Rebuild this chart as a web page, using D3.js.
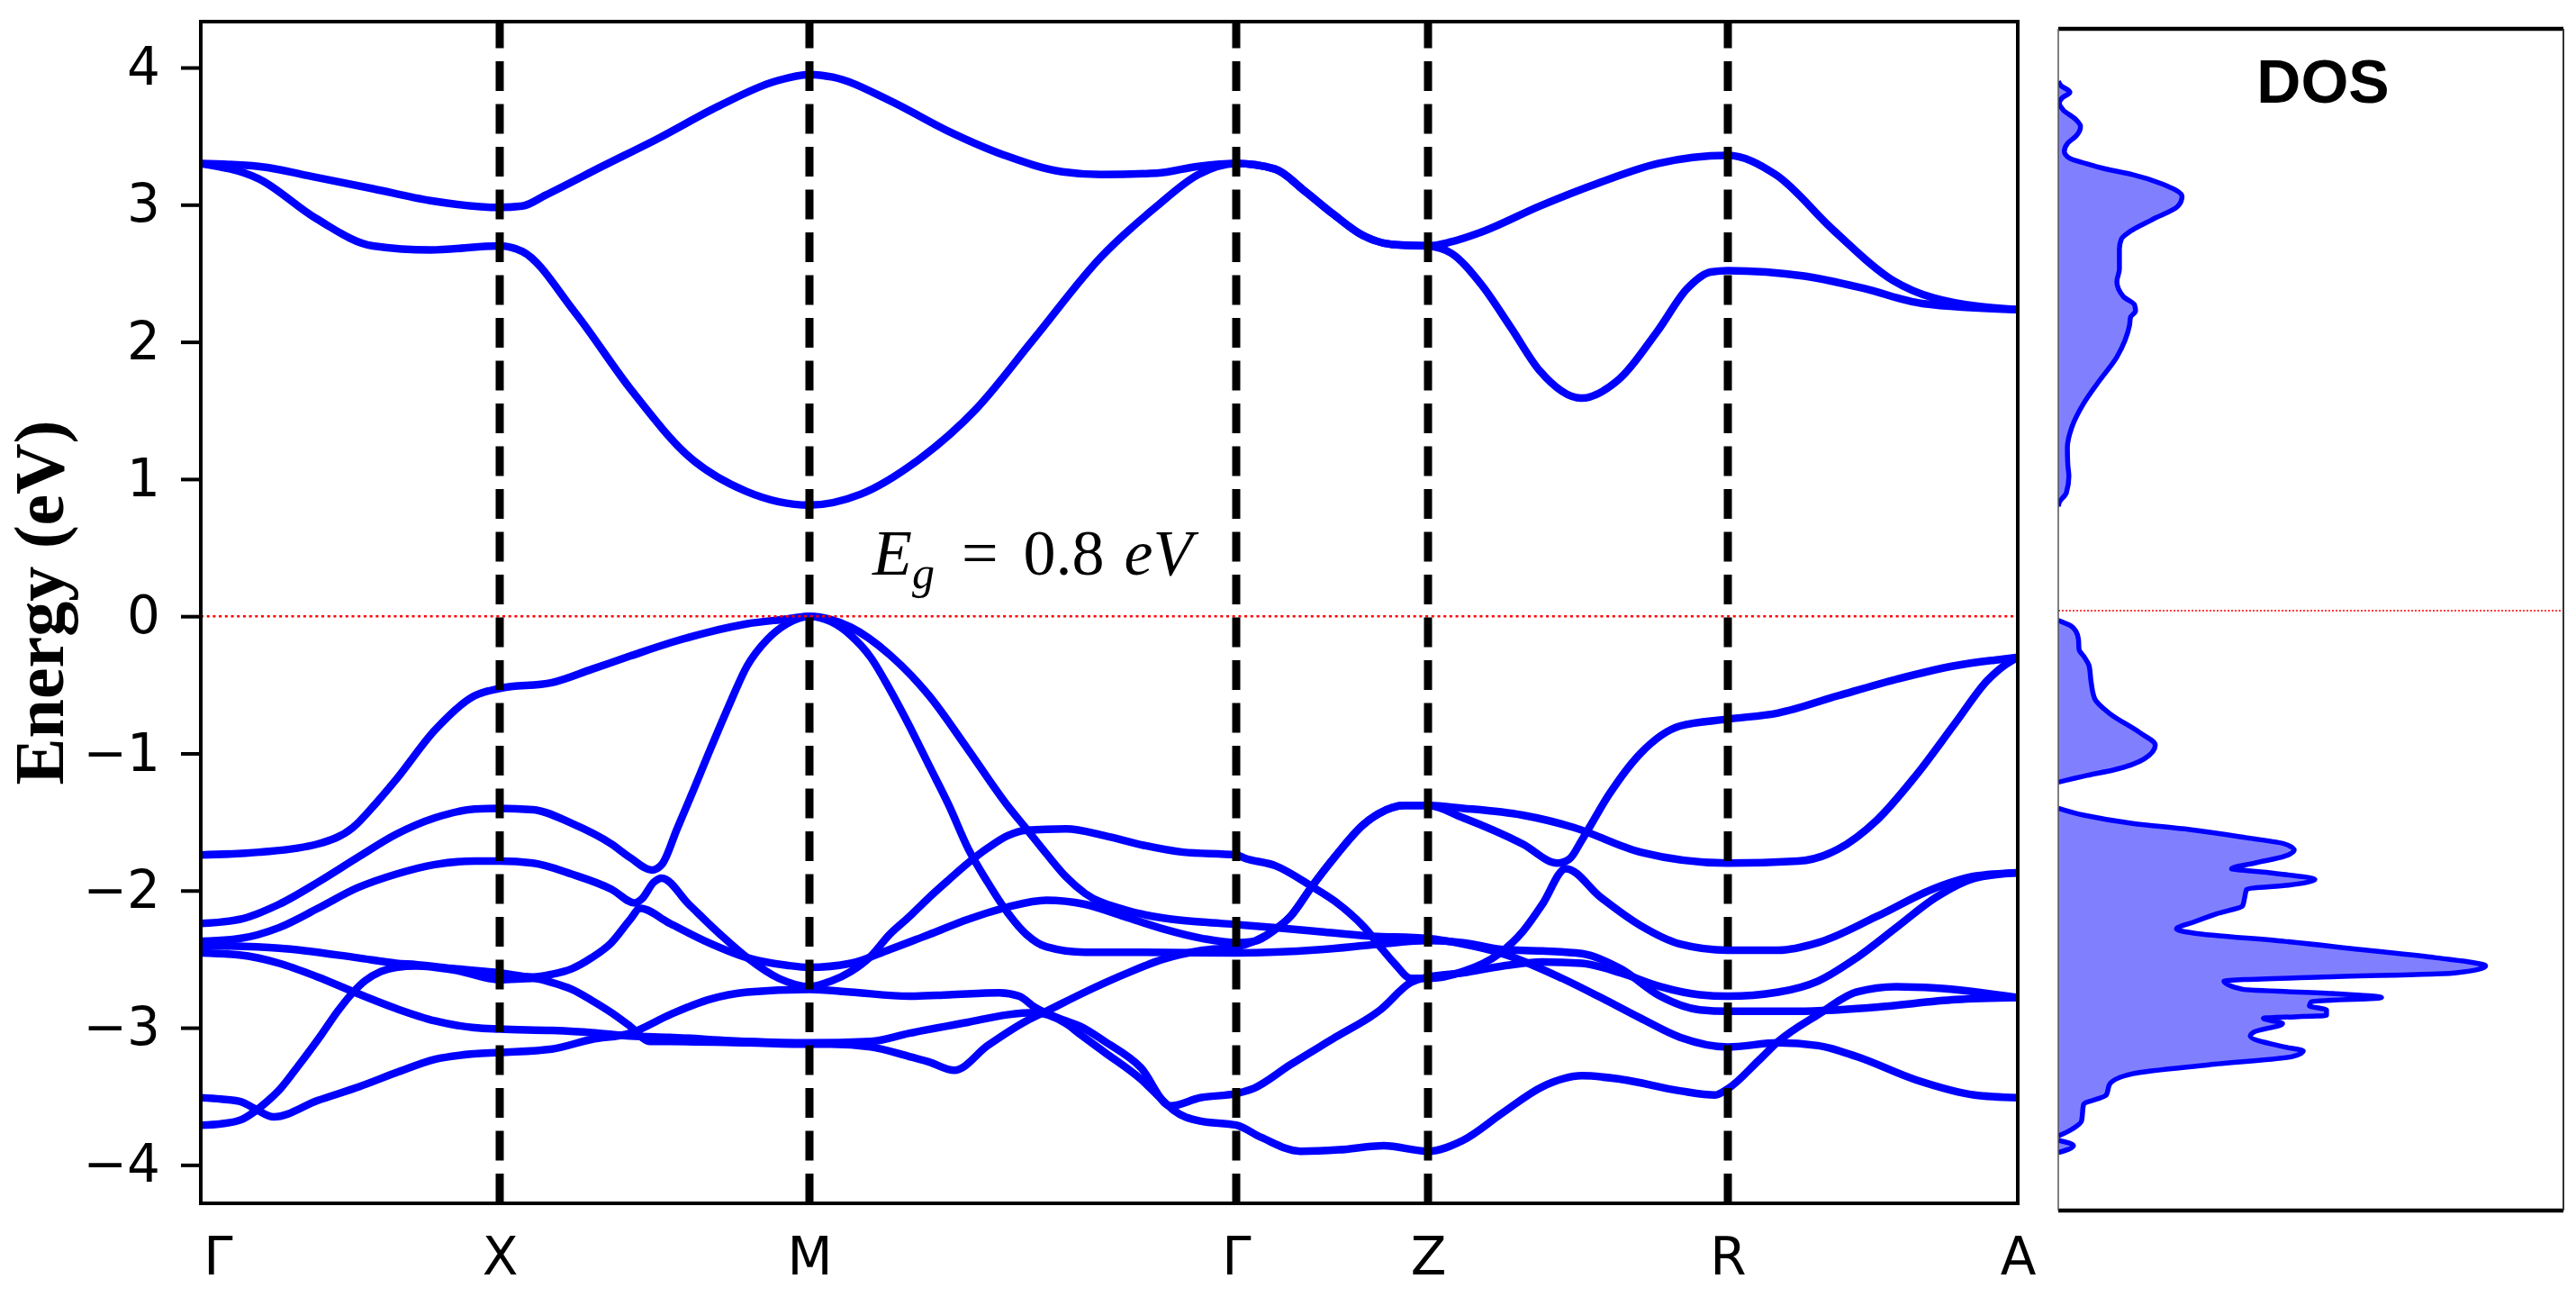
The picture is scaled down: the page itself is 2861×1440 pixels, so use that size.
<!DOCTYPE html>
<html>
<head>
<meta charset="utf-8">
<script src="https://cdn.jsdelivr.net/npm/d3@7"></script>
<style>
  body { margin: 0; background: #fff; }
  svg { display: block; }
</style>
</head>
<body>
<div id="chart"></div>
<script>
// high-symmetry points along the k-path (path distance, arbitrary units)
const kTicks  = [0.19, 3.32, 6.76, 11.50, 13.63, 16.96, 20.18];
const kLabels = ["Γ", "X", "M", "Γ", "Z", "R", "A"];
const kEdges  = [0, 20.18];
const yTicks  = [-4, -3, -2, -1, 0, 1, 2, 3, 4];
const gapText = "0.8";
const dosFermi = 0.04;

// valence bands [k, E(eV)]
const band1 = [[0,-1.74],[0.65,-1.72],[1.30,-1.66],[1.69,-1.54],[1.95,-1.36],[2.17,-1.19],[2.60,-0.83],[3.04,-0.58],[3.32,-0.526],
  [3.90,-0.484],[4.34,-0.387],[4.77,-0.29],[5.21,-0.194],[5.64,-0.116],[6.07,-0.055],[6.51,-0.02],[6.76,0],
  [7.22,-0.08],[7.65,-0.28],[8.09,-0.58],[8.52,-0.97],[8.96,-1.38],[9.17,-1.55],[9.39,-1.73],[9.61,-1.90],[9.82,-2.02],[10.26,-2.14],[10.69,-2.20],[11.13,-2.23],[11.50,-2.247],
  [11.94,-2.27],[12.44,-2.30],[12.94,-2.33],[13.63,-2.35],
  [14.02,-2.39],[14.46,-2.46],[15.12,-2.64],[15.55,-2.78],[15.99,-2.93],[16.43,-3.07],[16.96,-3.14],
  [17.52,-3.11],[17.96,-3.13],[18.39,-3.21],[19.05,-3.38],[19.70,-3.49],[20.18,-3.51]];
const band2 = [[0,-2.24],[0.43,-2.21],[0.87,-2.10],[1.30,-1.94],[1.74,-1.76],[2.17,-1.59],[2.60,-1.47],[3.04,-1.406],[3.32,-1.40],
  [3.69,-1.41],[4.12,-1.51],[4.56,-1.66],[4.77,-1.76],[5.01,-1.85],[5.12,-1.81],[5.29,-1.55],[5.47,-1.27],[5.64,-1.00],[5.86,-0.66],[6.07,-0.36],[6.29,-0.17],[6.51,-0.055],[6.76,0],
  [7.00,-0.04],[7.22,-0.14],[7.44,-0.30],[7.65,-0.53],[7.87,-0.80],[8.09,-1.09],[8.31,-1.38],[8.52,-1.69],[8.74,-1.94],[8.96,-2.16],[9.17,-2.32],[9.39,-2.41],[9.82,-2.45],[10.47,-2.45],[11.50,-2.455],
  [12.44,-2.43],[13.10,-2.39],[13.63,-2.365],
  [14.02,-2.38],[14.46,-2.43],[14.90,-2.44],[15.34,-2.46],[15.77,-2.57],[16.21,-2.77],[16.65,-2.87],[16.96,-2.88],
  [17.74,-2.88],[18.61,-2.85],[19.49,-2.795],[20.18,-2.78]];
const band3 = [[0,-2.37],[0.43,-2.35],[0.87,-2.27],[1.30,-2.13],[1.74,-1.98],[2.17,-1.88],[2.60,-1.81],[3.04,-1.785],[3.32,-1.785],
  [3.69,-1.80],[4.12,-1.88],[4.56,-1.99],[4.82,-2.09],[4.90,-2.06],[5.03,-1.94],[5.12,-1.91],[5.42,-2.10],[5.77,-2.32],[6.07,-2.49],[6.42,-2.64],[6.76,-2.70],
  [7.00,-2.66],[7.22,-2.59],[7.44,-2.48],[7.65,-2.32],[7.87,-2.19],[8.09,-2.05],[8.31,-1.92],[8.52,-1.80],[8.74,-1.69],[8.96,-1.60],[9.17,-1.56],[9.61,-1.55],[10.04,-1.60],[10.47,-1.67],[10.91,-1.72],[11.50,-1.74],
  [11.60,-1.765],[11.94,-1.82],[12.34,-1.97],[12.60,-2.08],[12.94,-2.28],[13.10,-2.41],[13.27,-2.54],[13.44,-2.64],[13.63,-2.64],
  [14.02,-2.59],[14.42,-2.46],[14.68,-2.30],[14.90,-2.10],[15.16,-1.84],[15.55,-2.05],[15.99,-2.255],[16.43,-2.39],[16.96,-2.435],
  [17.52,-2.435],[17.96,-2.38],[18.61,-2.19],[19.27,-1.98],[19.70,-1.895],[20.18,-1.87]];
const band4 = [[0,-2.40],[0.87,-2.42],[1.74,-2.49],[2.17,-2.53],[2.39,-2.54],[2.82,-2.57],[3.32,-2.60],
  [3.69,-2.63],[3.90,-2.61],[4.12,-2.57],[4.34,-2.49],[4.56,-2.38],[4.77,-2.21],[4.88,-2.13],[5.21,-2.24],[5.64,-2.38],[6.07,-2.49],[6.51,-2.545],[6.76,-2.56],
  [7.22,-2.53],[7.65,-2.43],[8.09,-2.32],[8.52,-2.21],[8.96,-2.12],[9.39,-2.07],[9.82,-2.10],[10.26,-2.19],[10.69,-2.28],[11.13,-2.35],[11.50,-2.38],
  [11.70,-2.37],[11.94,-2.28],[12.10,-2.19],[12.34,-1.97],[12.60,-1.75],[12.91,-1.52],[13.08,-1.44],[13.37,-1.38],[13.63,-1.38],
  [14.02,-1.40],[14.68,-1.45],[15.25,-1.54],[15.99,-1.72],[16.96,-1.80],
  [17.74,-1.785],[18.18,-1.70],[18.61,-1.49],[19.05,-1.16],[19.49,-0.775],[19.84,-0.47],[20.05,-0.35],[20.18,-0.30]];
const band5 = [[0,-3.71],[0.225,-3.70],[0.45,-3.67],[0.60,-3.61],[0.75,-3.53],[0.89,-3.44],[1.08,-3.28],[1.34,-3.05],[1.52,-2.88],[1.68,-2.75],[1.82,-2.66],[2.00,-2.59],[2.17,-2.56],[2.39,-2.55],[2.82,-2.58],[3.32,-2.65],
  [3.69,-2.64],[3.90,-2.67],[4.12,-2.72],[4.34,-2.80],[4.56,-2.89],[4.77,-2.99],[4.99,-3.10],[5.21,-3.10],[6.07,-3.11],[6.76,-3.12],
  [7.00,-3.12],[7.44,-3.14],[7.87,-3.21],[8.09,-3.25],[8.37,-3.31],[8.74,-3.13],[9.17,-2.95],[9.39,-2.88],[9.82,-2.74],[10.26,-2.61],[10.69,-2.50],[11.13,-2.435],[11.50,-2.41],
  [11.70,-2.37],[11.94,-2.28],[12.10,-2.19],[12.34,-1.97],[12.60,-1.75],[12.91,-1.52],[13.08,-1.44],[13.37,-1.38],[13.63,-1.38],
  [14.02,-1.47],[14.68,-1.66],[15.07,-1.80],[15.20,-1.77],[15.34,-1.63],[15.64,-1.30],[15.99,-1.00],[16.43,-0.80],[16.96,-0.75],
  [17.52,-0.705],[18.18,-0.58],[18.83,-0.46],[19.49,-0.36],[19.92,-0.32],[20.18,-0.30]];
const band6 = [[0,-2.455],[0.43,-2.47],[0.87,-2.53],[1.30,-2.63],[1.74,-2.75],[2.17,-2.86],[2.60,-2.95],[3.04,-3.00],[3.32,-3.01],
  [3.90,-3.02],[4.34,-3.035],[4.77,-3.06],[5.21,-3.07],[6.07,-3.10],[6.76,-3.11],
  [7.44,-3.10],[7.87,-3.04],[8.52,-2.96],[8.96,-2.905],[9.26,-2.89],[9.61,-2.97],[9.77,-3.05],[10.04,-3.18],[10.44,-3.375],[10.70,-3.54],[10.80,-3.60],[11.10,-3.68],[11.50,-3.71],
  [11.78,-3.80],[12.21,-3.90],[12.64,-3.89],[13.14,-3.86],[13.63,-3.90],
  [14.02,-3.82],[14.46,-3.62],[14.90,-3.43],[15.34,-3.35],[15.77,-3.375],[16.43,-3.46],[16.82,-3.49],[16.96,-3.445],
  [17.30,-3.24],[17.52,-3.10],[17.96,-2.905],[18.39,-2.74],[18.83,-2.70],[19.27,-2.71],[20.18,-2.78]];
const band7 = [[0,-3.51],[0.225,-3.52],[0.45,-3.54],[0.60,-3.59],[0.81,-3.65],[1.30,-3.53],[1.76,-3.43],[2.20,-3.32],[2.60,-3.23],[3.04,-3.19],[3.32,-3.18],
  [3.90,-3.155],[4.34,-3.085],[4.77,-3.04],[5.21,-2.905],[5.64,-2.795],[6.07,-2.74],[6.76,-2.72],
  [7.22,-2.74],[7.87,-2.77],[8.31,-2.76],[8.87,-2.745],[9.09,-2.77],[9.26,-2.85],[9.61,-2.95],[9.77,-2.99],[10.04,-3.10],[10.44,-3.29],[10.77,-3.57],[11.10,-3.51],[11.50,-3.48],
  [11.70,-3.44],[12.10,-3.27],[12.60,-3.07],[13.10,-2.87],[13.44,-2.67],[13.63,-2.63],
  [14.02,-2.60],[14.46,-2.55],[14.90,-2.52],[15.34,-2.53],[15.77,-2.60],[16.21,-2.70],[16.65,-2.76],[16.96,-2.77],
  [17.52,-2.74],[17.96,-2.66],[18.39,-2.49],[18.83,-2.27],[19.27,-2.05],[19.70,-1.91],[20.18,-1.87]];

// conduction bands
const cond1 = [[0,3.30],[0.64,3.19],[1.28,2.90],[1.91,2.70],[2.55,2.67],[3.32,2.70],
  [3.57,2.66],[4.15,2.22],[4.78,1.65],[5.42,1.165],[6.06,0.91],[6.76,0.81],
  [7.33,0.89],[7.97,1.14],[8.61,1.51],[9.25,2.02],[10.0,2.62],[10.62,2.99],[11.08,3.22],[11.50,3.30],
  [11.93,3.26],[12.26,3.10],[12.58,2.93],[12.91,2.775],[13.24,2.71],[13.63,2.70],
  [13.89,2.646],[14.22,2.42],[14.55,2.105],[14.87,1.79],[15.33,1.59],[15.72,1.71],[16.18,2.08],[16.51,2.39],[16.77,2.51],[16.96,2.52],
  [17.81,2.48],[18.47,2.39],[19.12,2.28],[20.18,2.235]];
const cond2 = [[0,3.30],[0.64,3.28],[1.28,3.20],[1.91,3.117],[2.55,3.03],[3.32,2.98],
  [3.57,2.99],[3.83,3.07],[4.46,3.28],[5.10,3.49],[5.74,3.715],[6.38,3.90],[6.76,3.95],
  [7.02,3.93],[7.65,3.76],[8.29,3.54],[8.93,3.36],[9.57,3.24],[10.0,3.22],[10.62,3.23],[11.08,3.28],[11.50,3.30],
  [11.93,3.26],[12.26,3.10],[12.58,2.93],[12.91,2.775],[13.24,2.71],[13.63,2.70],
  [13.89,2.73],[14.22,2.80],[14.87,2.99],[15.53,3.16],[16.18,3.30],[16.96,3.36],
  [17.49,3.22],[18.14,2.81],[18.79,2.45],[19.25,2.32],[20.18,2.235]];

// density of states islands [E(eV), DOS]
const dosCond = [[3.90,0],[3.87,0.05],[3.82,0.23],[3.78,0.08],[3.74,0.02],[3.69,0.10],[3.62,0.35],[3.57,0.44],[3.50,0.35],[3.45,0.19],[3.39,0.12],[3.34,0.22],[3.30,0.55],[3.26,0.95],[3.22,1.47],[3.15,2.07],[3.06,2.45],[2.99,2.37],[2.89,1.85],[2.80,1.40],[2.75,1.25],[2.68,1.21],[2.53,1.21],[2.44,1.16],[2.33,1.29],[2.27,1.51],[2.225,1.53],[2.18,1.43],[2.12,1.41],[2.01,1.32],[1.89,1.16],[1.71,0.80],[1.55,0.50],[1.38,0.27],[1.23,0.18],[1.10,0.19],[1.02,0.21],[0.90,0.16],[0.83,0.02],[0.80,0]];
const dosValTop = [[-0.03,0],[-0.07,0.25],[-0.11,0.35],[-0.17,0.40],[-0.24,0.41],[-0.30,0.52],[-0.36,0.61],[-0.48,0.65],[-0.60,0.72],[-0.71,1.02],[-0.85,1.62],[-0.94,1.92],[-1.04,1.70],[-1.12,1.10],[-1.16,0.57],[-1.21,0]];
const dosValMain = [[-1.40,0],[-1.45,0.50],[-1.51,1.47],[-1.555,2.60],[-1.615,3.73],[-1.66,4.48],[-1.706,4.67],[-1.75,4.48],[-1.80,3.88],[-1.84,3.43],[-1.87,4.18],[-1.92,5.08],[-1.96,4.56],[-1.99,3.73],[-2.05,3.69],[-2.11,3.65],[-2.17,3.13],[-2.23,2.68],[-2.28,2.34],[-2.31,2.68],[-2.37,4.48],[-2.43,5.98],[-2.49,7.48],[-2.55,8.46],[-2.60,7.85],[-2.63,5.23],[-2.66,3.28],[-2.72,3.65],[-2.75,5.42],[-2.78,6.40],[-2.81,5.01],[-2.84,4.97],[-2.87,5.31],[-2.91,5.31],[-2.93,4.06],[-2.97,4.44],[-3.03,3.88],[-3.06,3.80],[-3.14,4.48],[-3.17,4.85],[-3.21,4.63],[-3.27,2.98],[-3.335,1.47],[-3.41,1.02],[-3.49,0.95],[-3.56,0.50],[-3.68,0.46],[-3.74,0.27],[-3.79,0]];
const dosDeep = [[-3.82,0],[-3.86,0.30],[-3.91,0]];

const valence = [band1, band2, band3, band4, band5, band6, band7];
const conduction = [cond1, cond2];
const dosParts = [dosCond, dosValTop, dosValMain, dosDeep];

const W = 2861, H = 1440;
const plot = { l: 223, r: 2241, t: 24, b: 1336 };
const side = { l: 2286, r: 2847, t: 32, b: 1344 };
const blue = "#0000ff";

const svg = d3.select("#chart").append("svg").attr("width", W).attr("height", H);

const x  = d3.scaleLinear().domain(kEdges).range([plot.l, plot.r]);
const y  = d3.scaleLinear().domain([-4.28, 4.335]).range([plot.b, plot.t]);
const dx = d3.scaleLinear().domain([0, 10]).range([side.l, side.r]);

const defs = svg.append("defs");
defs.append("clipPath").attr("id", "clip-main").append("rect")
  .attr("x", plot.l).attr("y", plot.t).attr("width", plot.r - plot.l).attr("height", plot.b - plot.t);
defs.append("clipPath").attr("id", "clip-dos").append("rect")
  .attr("x", side.l).attr("y", side.t).attr("width", side.r - side.l).attr("height", side.b - side.t);

// bands
const line = d3.line().x(d => x(d[0])).y(d => y(d[1])).curve(d3.curveMonotoneX);
const gBands = svg.append("g").attr("clip-path", "url(#clip-main)");
gBands.selectAll("path.band").data(valence.concat(conduction)).join("path")
  .attr("class", "band").attr("d", line)
  .attr("fill", "none").attr("stroke", blue).attr("stroke-width", 8.5)
  .attr("stroke-linejoin", "round").attr("stroke-linecap", "round");

// fermi level
svg.append("line")
  .attr("x1", plot.l).attr("x2", plot.r).attr("y1", y(0)).attr("y2", y(0))
  .attr("stroke", "#ff0000").attr("stroke-width", 2.5).attr("stroke-dasharray", "3,3.7");

// high-symmetry dashed lines (drawn from the bottom like matplotlib)
svg.append("g").selectAll("line").data(kTicks.slice(1, -1)).join("line")
  .attr("x1", d => x(d)).attr("x2", d => x(d))
  .attr("y1", plot.b).attr("y2", plot.t)
  .attr("stroke", "#000").attr("stroke-width", 9).attr("stroke-dasharray", "33,14.5");

// frame
svg.append("rect").attr("x", plot.l).attr("y", plot.t)
  .attr("width", plot.r - plot.l).attr("height", plot.b - plot.t)
  .attr("fill", "none").attr("stroke", "#000").attr("stroke-width", 4);

// y axis
const yAxis = svg.append("g").attr("transform", `translate(${plot.l},0)`)
  .call(d3.axisLeft(y).tickValues(yTicks).tickSize(22).tickPadding(23).tickFormat(d3.format("d")));
yAxis.select(".domain").remove();
yAxis.selectAll(".tick line").attr("stroke", "#000").attr("stroke-width", 4);
yAxis.selectAll(".tick text").attr("fill", "#000")
  .style("font-family", "'DejaVu Sans', sans-serif").style("font-size", "58px");

// x axis labels
const xAxis = svg.append("g").attr("transform", `translate(0,${plot.b})`)
  .call(d3.axisBottom(x).tickValues(kTicks).tickSize(0).tickPadding(38).tickFormat((d, i) => kLabels[i]));
xAxis.select(".domain").remove();
xAxis.selectAll(".tick text").attr("fill", "#000")
  .style("font-family", "'DejaVu Sans', sans-serif").style("font-size", "58px");

// y label
svg.append("text")
  .attr("transform", `translate(70,${(plot.t + plot.b) / 2 - 11}) rotate(-90)`)
  .attr("text-anchor", "middle")
  .style("font-family", "'Liberation Serif', 'Times New Roman', serif")
  .style("font-weight", "bold").style("font-size", "78px")
  .text("Energy (eV)");

// band gap annotation
const gap = svg.append("text").attr("x", 969).attr("y", 638)
  .style("font-family", "'Liberation Serif', 'Times New Roman', serif").style("font-size", "72px");
gap.append("tspan").style("font-style", "italic").text("E");
gap.append("tspan").style("font-style", "italic").style("font-size", "50px").attr("dy", 15).text("g");
gap.append("tspan").attr("dy", -15).attr("dx", 30).text("=");
gap.append("tspan").attr("dx", 28).text(gapText);
gap.append("tspan").attr("dx", 22).style("font-style", "italic").text("eV");

// DOS panel
const gDos = svg.append("g").attr("clip-path", "url(#clip-dos)");
const area = d3.area().y(d => y(d[0])).x0(dx(0)).x1(d => dx(d[1])).curve(d3.curveMonotoneY);
const dline = d3.line().y(d => y(d[0])).x(d => dx(d[1])).curve(d3.curveMonotoneY);
gDos.selectAll("path.fill").data(dosParts).join("path").attr("class", "fill")
  .attr("d", area).attr("fill", "#8080ff").attr("stroke", "none");
gDos.selectAll("path.edge").data(dosParts).join("path").attr("class", "edge")
  .attr("d", dline).attr("fill", "none").attr("stroke", blue).attr("stroke-width", 5.5)
  .attr("stroke-linejoin", "round");
gDos.append("line")
  .attr("x1", side.l).attr("x2", side.r).attr("y1", y(dosFermi)).attr("y2", y(dosFermi))
  .attr("stroke", "#ff0000").attr("stroke-width", 1.5).attr("stroke-dasharray", "2,2");

// DOS frame: thick top/bottom, thin sides
svg.append("line").attr("x1", side.l).attr("x2", side.r).attr("y1", side.t).attr("y2", side.t)
  .attr("stroke", "#000").attr("stroke-width", 4.5);
svg.append("line").attr("x1", side.l).attr("x2", side.r).attr("y1", side.b).attr("y2", side.b)
  .attr("stroke", "#000").attr("stroke-width", 4.5);
svg.append("line").attr("x1", side.l).attr("x2", side.l).attr("y1", side.t).attr("y2", side.b)
  .attr("stroke", "#555").attr("stroke-width", 1.5);
svg.append("line").attr("x1", side.r).attr("x2", side.r).attr("y1", side.t).attr("y2", side.b)
  .attr("stroke", "#333").attr("stroke-width", 2);

svg.append("text").attr("x", 2580).attr("y", 114)
  .attr("text-anchor", "middle")
  .style("font-family", "'Liberation Sans', Arial, sans-serif").style("font-weight", "bold").style("font-size", "68px")
  .text("DOS");
</script>
</body>
</html>
